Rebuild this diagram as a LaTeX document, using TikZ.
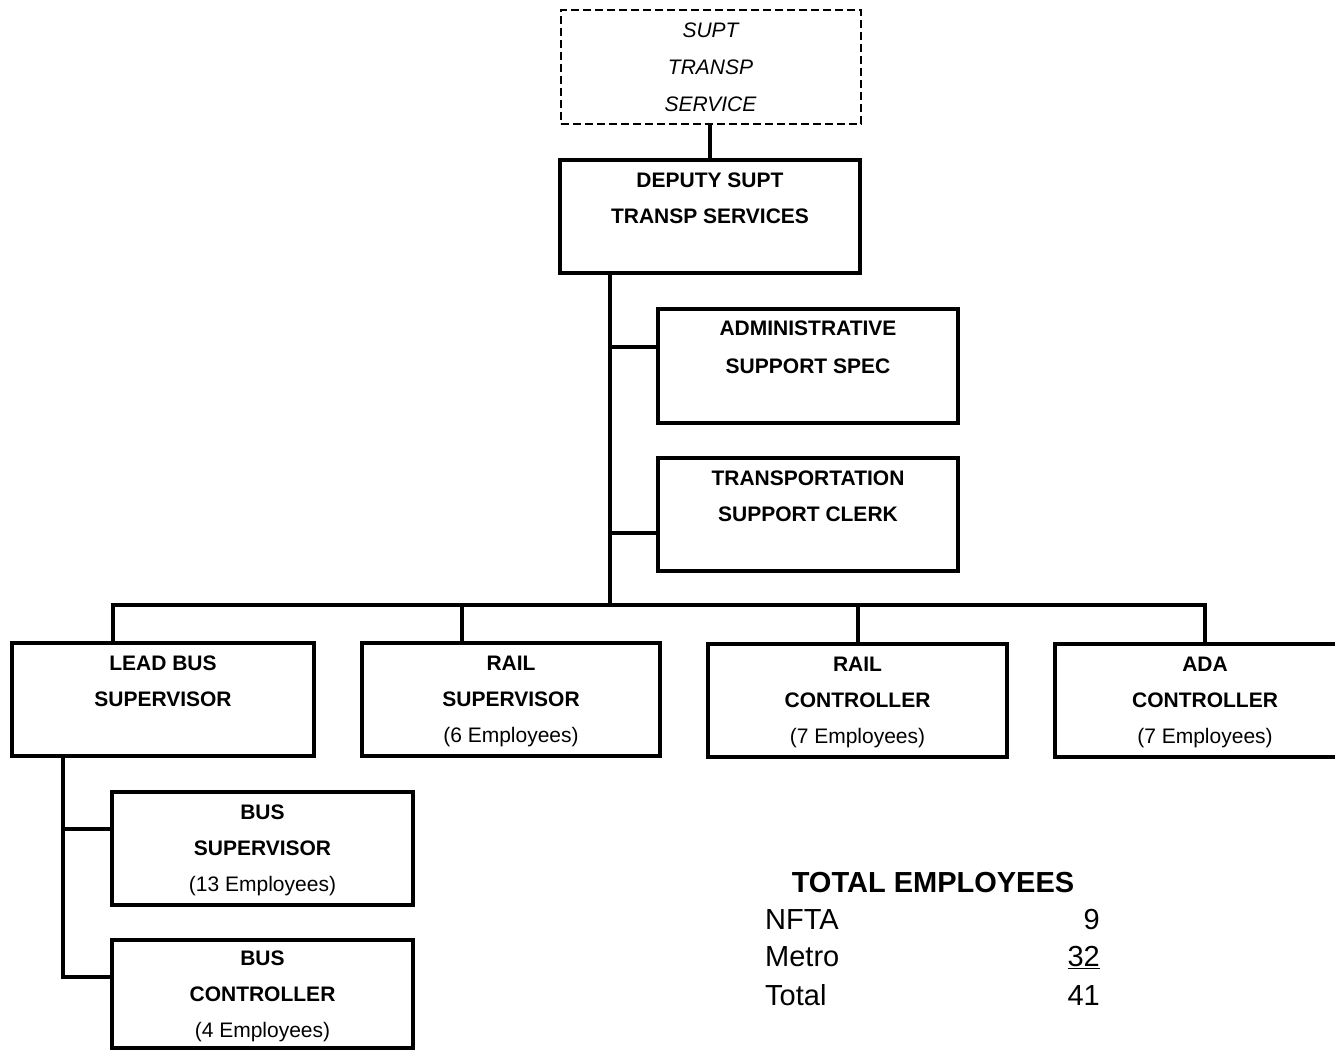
\documentclass[tikz,border=0pt]{standalone}
\usepackage{fontspec}
\setmainfont{Liberation Sans}
\begin{document}
\begin{tikzpicture}[x=1pt,y=-1pt,
  box/.style={draw, line width=4pt, rectangle, inner sep=0pt,
    minimum width=300pt, minimum height=113pt, align=center,
    font=\fontsize{21}{36}\selectfont\bfseries},
  vacant/.style={box, line width=2pt, dash pattern=on 8pt off 4pt,
    font=\fontsize{21}{37}\selectfont\itshape},
  conn/.style={line width=4pt, line join=miter},
  heading/.style={font=\fontsize{29}{34}\selectfont\bfseries, inner sep=0pt},
  row/.style={font=\fontsize{29}{34}\selectfont, inner sep=0pt}
]
\useasboundingbox (0,0) rectangle (1335,1050);

% upper management
\node[vacant, minimum height=114pt] (supt) at (710.5,67)
  {\strut SUPT\\ \strut TRANSP\\ \strut SERVICE};
\node[box] (dep) at (710,216.5)
  {\strut DEPUTY SUPT\\ \strut TRANSP SERVICES\\ \strut};

% staff positions
\node[box, minimum height=112pt, font=\fontsize{21}{38}\selectfont\bfseries] (adm) at (808,366)
  {\strut ADMINISTRATIVE\\ \strut SUPPORT SPEC\\ \strut};
\node[box] (trn) at (808,514.5)
  {\strut TRANSPORTATION\\ \strut SUPPORT CLERK\\ \strut};

% operating sections
\node[box, minimum width=302pt] (lead) at (163,699.5)
  {\strut LEAD BUS\\ \strut SUPERVISOR\\ \strut};
\node[box, minimum width=298pt] (rsup) at (511,699.5)
  {\strut RAIL\\ \strut SUPERVISOR\\ \strut\mdseries (6 Employees)};
\node[box, minimum width=299pt] (rctl) at (857.5,700.5)
  {\strut RAIL\\ \strut CONTROLLER\\ \strut\mdseries (7 Employees)};
\node[box] (ada) at (1205,700.5)
  {\strut ADA\\ \strut CONTROLLER\\ \strut\mdseries (7 Employees)};

% bus units
\node[box, minimum width=301pt] (bsup) at (262.5,848.5)
  {\strut BUS\\ \strut SUPERVISOR\\ \strut\mdseries (13 Employees)};
\node[box, minimum width=301pt, minimum height=108pt] (bctl) at (262.5,994)
  {\strut BUS\\ \strut CONTROLLER\\ \strut\mdseries (4 Employees)};

% reporting lines
\coordinate (bus) at (610,605);
\draw[conn] (dep.north |- supt.south) -- (dep.north);
\draw[conn] (dep.south -| bus) -- (bus);
\draw[conn] (bus |- 0,347) -- (adm.west |- 0,347);
\draw[conn] (bus |- 0,533) -- (trn.west |- 0,533);
\draw[conn] (lead.north -| 113,0) -- (113,0 |- bus) -- (ada.north |- bus) -- (ada.north);
\draw[conn] (rsup.north -| 462,0) -- (462,0 |- bus);
\draw[conn] (rctl.north) -- (rctl.north |- bus);
\draw[conn] (lead.south -| 63,0) -- (63,977) -- (bctl.west |- 0,977);
\draw[conn] (63,829) -- (bsup.west |- 0,829);

% staffing summary
\node[heading, anchor=base] (tot) at (933,892.5) {TOTAL EMPLOYEES};
\node[row, anchor=base west] (nfta) at (765,929.5) {NFTA};
\node[row, anchor=base east] (nftan) at (1100,929.5) {9};
\node[row, anchor=base west] (metro) at (765,966.5) {Metro};
\node[row, anchor=base east] (metron) at (1100,966.5) {\underline{32}};
\node[row, anchor=base west] (total) at (765,1005.5) {Total};
\node[row, anchor=base east] (totaln) at (1100,1005.5) {41};
\end{tikzpicture}
\end{document}
